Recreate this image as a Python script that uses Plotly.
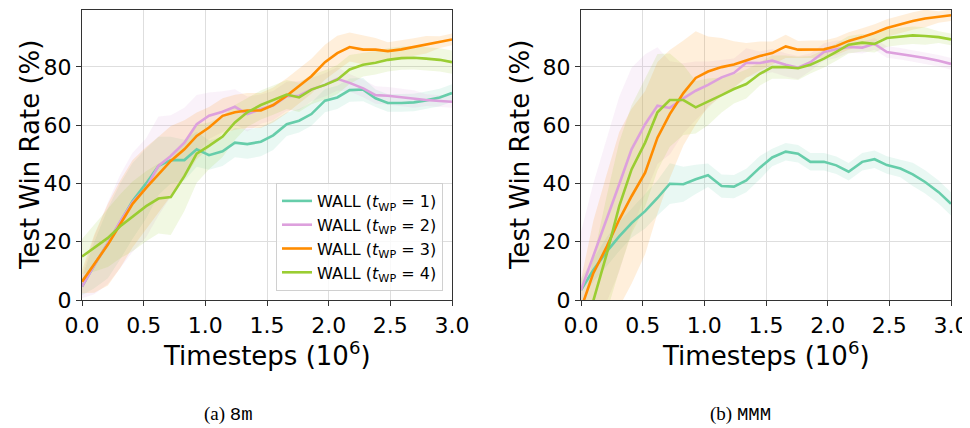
import plotly.graph_objects as go

# ---------------- data ----------------
timesteps = [0.00, 0.10, 0.21, 0.31, 0.41, 0.52, 0.62, 0.72, 0.83, 0.93,
             1.03, 1.14, 1.24, 1.34, 1.45, 1.55, 1.66, 1.76, 1.86, 1.97,
             2.07, 2.17, 2.28, 2.38, 2.48, 2.59, 2.69, 2.79, 2.90, 3.00]

series_names = ["WALL (<i>t</i><sub>WP</sub> = 1)", "WALL (<i>t</i><sub>WP</sub> = 2)",
                "WALL (<i>t</i><sub>WP</sub> = 3)", "WALL (<i>t</i><sub>WP</sub> = 4)"]
series_colors = ["#66cdaa", "#dda0dd", "#ff8c00", "#9acd32"]

# (a) 8m
m8_t1 = [4.6, 12, 19.5, 27, 34, 40, 46, 48, 48, 51.7, 49.7, 51, 54, 53.5, 54.3, 56.5, 60.3, 61.5, 63.8, 68.4,
         69.5, 72, 72.2, 69.2, 67.6, 67.6, 67.8, 68.5, 69.5, 71]
m8_t2 = [4.6, 12, 19.5, 27, 33.5, 38.5, 46, 49.4, 54, 60.3, 63.2, 64.6, 66.3, 63.8, 65.5, 66.7, 69.9, 70.1, 72.2, 73.8,
         75.9, 74.5, 72.6, 70.3, 70.1, 69.5, 69, 68.6, 68.3, 68]
m8_t3 = [6.3, 12.5, 19, 26, 33, 38.5, 43, 47.7, 51.7, 56.3, 59.2, 63.2, 64.4, 65, 65, 66.9, 70.1, 73.3, 76.8, 81.6,
         84.7, 86.8, 85.9, 85.9, 85.4, 86, 86.8, 87.6, 88.5, 89.4]
m8_t4 = [14.9, 17.8, 21.3, 25.3, 28.7, 32.2, 34.8, 35.3, 42.5, 50.2, 52.9, 56.1, 60.9, 64.4, 66.9, 68.6, 70.5, 69.5, 72.2, 73.8,
         75.6, 79.1, 80.7, 81.4, 82.4, 83, 83.1, 82.8, 82.4, 81.6]

m8_t1_sd = [3, 8, 12, 13, 13, 12, 10, 8, 7, 6, 5, 5, 5, 5, 5, 5, 4, 4, 4, 4, 4, 4, 4, 3, 3, 3, 3, 3, 3, 3]
m8_t2_sd = [4, 10, 14, 16, 17, 17, 17, 14, 12, 10, 8, 7, 6, 6, 5, 5, 5, 5, 4, 4, 4, 3, 3, 3, 3, 3, 3, 2, 2, 2]
m8_t3_sd = [4, 10, 14, 15, 15, 14, 13, 12, 10, 8, 7, 6, 6, 6, 6, 6, 6, 6, 6, 6, 6, 5, 5, 4, 3, 3, 3, 3, 2, 2]
m8_t4_sd = [6, 8, 10, 11, 12, 12, 12, 13, 12, 10, 8, 7, 6, 5, 5, 5, 5, 5, 5, 5, 5, 5, 4, 4, 4, 4, 4, 4, 4, 4]

# (b) MMM
mmm_t1 = [3.4, 10.3, 16.7, 21.8, 26.4, 30.5, 35, 39.9, 39.7, 41.4, 42.8, 39.1, 38.9, 41, 45.4, 48.9, 50.9, 50.2, 47.4, 47.4,
          46.2, 44, 47.4, 48.3, 46.3, 45.1, 43.1, 40.5, 37, 33]
mmm_t2 = [3.4, 15, 27.6, 39.7, 51.7, 60.3, 66.7, 65.9, 69.2, 71.8, 73.8, 76.4, 77.9, 81.4, 81.3, 82.1, 80.7, 79.7, 81.6, 85.1,
          86, 86.8, 86.6, 87.9, 85.1, 84.5, 83.7, 83, 82.1, 81]
mmm_t3 = [-3, 9.2, 18.4, 27.6, 35.6, 43.7, 55.7, 63.8, 71, 76.2, 78.4, 79.9, 80.8, 82.2, 83.7, 84.7, 87, 85.9, 86, 86,
          87.1, 88.9, 90.2, 91.6, 93.3, 94.6, 95.7, 96.6, 97.1, 97.7]
mmm_t4 = [-15, 0, 16, 32.2, 44.8, 54, 64.4, 68.6, 68.6, 66.1, 68, 70.3, 72.4, 74.1, 77.6, 79.9, 79.9, 79.5, 80.7, 82.8,
          85.1, 87.6, 88.3, 87.9, 89.9, 90.5, 90.8, 90.6, 90.2, 89.4]

mmm_t1_sd = [4, 4, 5, 5, 5, 6, 6, 7, 6, 5, 4, 4, 4, 4, 4, 3, 3, 3, 3, 3, 3, 3, 3, 3, 3, 3, 4, 4, 4, 4]
mmm_t2_sd = [20, 25, 28, 30, 28, 24, 20, 16, 12, 10, 8, 6, 5, 5, 4, 4, 4, 4, 3, 3, 3, 2, 2, 2, 2, 2, 2, 2, 2, 2]
mmm_t3_sd = [10, 18, 25, 30, 30, 28, 26, 22, 18, 16, 12, 10, 8, 6, 5, 4, 4, 3, 3, 3, 3, 3, 3, 3, 3, 3, 3, 3, 2, 2]
mmm_t4_sd = [10, 15, 20, 22, 22, 22, 20, 16, 12, 9, 8, 6, 5, 5, 4, 4, 4, 4, 3, 3, 3, 3, 3, 3, 3, 3, 3, 3, 2, 2]

x_ticks = [0.0, 0.5, 1.0, 1.5, 2.0, 2.5, 3.0]
y_ticks = [0, 20, 40, 60, 80]
y_title = "Test Win Rate (%)"
x_title = "Timesteps (10<sup>6</sup>)"
captions = ["(a) <span style=\"font-family:'Liberation Mono'\">8m</span>",
            "(b) <span style=\"font-family:'Liberation Mono'\">MMM</span>"]

panels = [
    ([m8_t1, m8_t2, m8_t3, m8_t4], [m8_t1_sd, m8_t2_sd, m8_t3_sd, m8_t4_sd], "x", "y"),
    ([mmm_t1, mmm_t2, mmm_t3, mmm_t4], [mmm_t1_sd, mmm_t2_sd, mmm_t3_sd, mmm_t4_sd], "x2", "y2"),
]


def rgba(hexc, a):
    h = hexc.lstrip("#")
    return "rgba(%d,%d,%d,%.3f)" % (int(h[0:2], 16), int(h[2:4], 16), int(h[4:6], 16), a)


fig = go.Figure()
for pi, (means, sds, xa, ya) in enumerate(panels):
    # bands first
    for mean, sd, col in zip(means, sds, series_colors):
        upper = [m + s for m, s in zip(mean, sd)]
        lower = [m - s for m, s in zip(mean, sd)]
        fig.add_trace(go.Scatter(
            x=timesteps + timesteps[::-1], y=upper + lower[::-1],
            fill="toself", fillcolor=rgba(col, 0.14), line=dict(width=0),
            mode="lines", hoverinfo="skip", showlegend=False, xaxis=xa, yaxis=ya))
    for si, (mean, name, col) in enumerate(zip(means, series_names, series_colors)):
        fig.add_trace(go.Scatter(
            x=timesteps, y=mean, mode="lines", name=name,
            line=dict(color=col, width=2.6), showlegend=(pi == 0),
            xaxis=xa, yaxis=ya))

# page has an 8px body margin: figure is 962x420 and drawn at offset (8, 8)
OFF = 8
W, H = 970 - OFF, 428 - OFF


def px(x):
    return (x - OFF) / W


def py(y):
    return 1 - (y - OFF) / H


left_dom = [px(82), px(452)]
right_dom = [px(581), px(951)]
y_dom = [py(300), py(10)]

axis_common = dict(
    showline=True, linecolor="#333333", linewidth=1.2, mirror=True,
    ticks="outside", ticklen=5, tickwidth=1.1, tickcolor="#333333",
    showgrid=True, gridcolor="#dedede", gridwidth=1, automargin=False,
    zeroline=False, tickfont=dict(family="DejaVu Sans", size=22, color="black"),
)

fig.update_layout(
    width=W, height=H,
    margin=dict(l=0, r=0, t=0, b=0, pad=0, autoexpand=False),
    paper_bgcolor="white", plot_bgcolor="white",
    font=dict(family="DejaVu Sans", color="black"),
    xaxis=dict(domain=left_dom, anchor="y", range=[0, 3], tickvals=x_ticks,
               ticktext=["%.1f" % v for v in x_ticks], **axis_common),
    yaxis=dict(domain=y_dom, anchor="x", range=[0, 99.5], tickvals=y_ticks, **axis_common),
    xaxis2=dict(domain=right_dom, anchor="y2", range=[0, 3], tickvals=x_ticks,
                ticktext=["%.1f" % v for v in x_ticks], **axis_common),
    yaxis2=dict(domain=y_dom, anchor="x2", range=[0, 99.5], tickvals=y_ticks, **axis_common),
    legend=dict(
        x=px(443), y=py(291), xanchor="right", yanchor="bottom",
        bgcolor="rgba(255,255,255,0.8)", bordercolor="#d0d0d0", borderwidth=1,
        font=dict(family="DejaVu Sans", size=16, color="black"),
    ),
    showlegend=True,
)

annotations = []
for cx, tx in [(30, 267), (520, 766)]:
    annotations.append(dict(text=y_title, x=px(cx), y=py(155), xref="paper", yref="paper",
                            textangle=-90, showarrow=False, xanchor="center", yanchor="middle",
                            font=dict(family="DejaVu Sans", size=26, color="black")))
    annotations.append(dict(text=x_title, x=px(tx), y=py(354), xref="paper", yref="paper",
                            showarrow=False, xanchor="center", yanchor="middle",
                            font=dict(family="DejaVu Sans", size=26, color="black")))
for cx, cap in zip([228, 740], captions):
    annotations.append(dict(text=cap, x=px(cx), y=py(414), xref="paper", yref="paper",
                            showarrow=False, xanchor="center", yanchor="middle",
                            font=dict(family="Liberation Serif", size=19, color="black")))
fig.update_layout(annotations=annotations)

fig.write_html("out.html")
